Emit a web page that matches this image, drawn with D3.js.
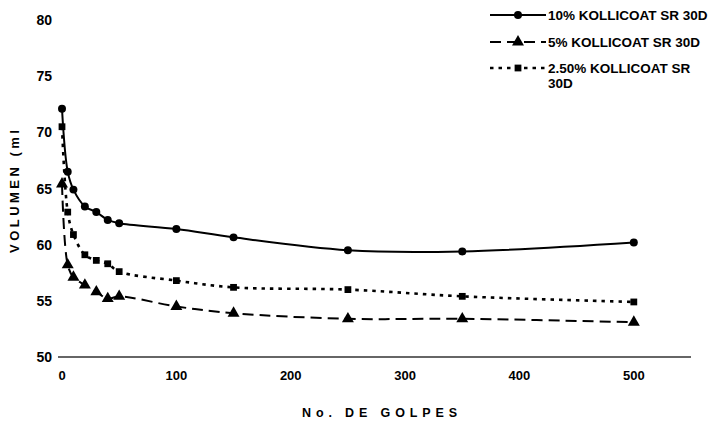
<!DOCTYPE html>
<html>
<head>
<meta charset="utf-8">
<script src="https://cdn.jsdelivr.net/npm/d3@7"></script>
<style>
  body { margin: 0; background: #fff; }
  text { font-family: Arial, "Liberation Sans", sans-serif; font-weight: bold; fill: #000; }
</style>
</head>
<body>
<svg id="chart" width="714" height="424"></svg>
<script>
// No. de golpes vs volumen (ml)
const golpes = [0, 5, 10, 20, 30, 40, 50, 100, 150, 250, 350, 500];
const kol10 = [72.1, 66.5, 64.9, 63.4, 62.9, 62.2, 61.9, 61.4, 60.65, 59.5, 59.4, 60.2];
const kol5 = [65.4, 58.2, 57.1, 56.4, 55.8, 55.2, 55.4, 54.5, 53.9, 53.4, 53.4, 53.1];
const kol25 = [70.5, 62.9, 60.9, 59.1, 58.6, 58.3, 57.6, 56.8, 56.2, 56.0, 55.4, 54.9];

const legendLabels = [["10% KOLLICOAT SR 30D"], ["5% KOLLICOAT SR 30D"], ["2.50% KOLLICOAT SR", "30D"]];
const xTicks = [0, 100, 200, 300, 400, 500];
const yTicks = [50, 55, 60, 65, 70, 75, 80];

const svg = d3.select("#chart");

const x = d3.scaleLinear().domain([0, 550]).range([62, 691]);
const y = d3.scaleLinear().domain([50, 80]).range([357, 20]);

const series = [
  { values: kol10, dash: null, width: 2, symbol: d3.symbolCircle, size: 50 },
  { values: kol5, dash: "11,6", width: 2, symbol: d3.symbolTriangle, size: 62 },
  { values: kol25, dash: "3.5,5", width: 2.6, symbol: d3.symbolSquare, size: 46 }
];

// x axis line at 50
svg.append("line")
  .attr("x1", x(0) - 4).attr("x2", x(550))
  .attr("y1", y(50)).attr("y2", y(50))
  .attr("stroke", "#333").attr("stroke-width", 1.4);

// y tick labels
svg.selectAll(".ylab")
  .data(yTicks)
  .enter().append("text")
  .attr("class", "ylab")
  .attr("x", 52)
  .attr("y", d => y(d))
  .attr("dy", "0.36em")
  .attr("text-anchor", "end")
  .style("font-size", "14px")
  .text(d => d);

// x tick labels
svg.selectAll(".xlab")
  .data(xTicks)
  .enter().append("text")
  .attr("class", "xlab")
  .attr("x", d => x(d))
  .attr("y", 380)
  .attr("text-anchor", "middle")
  .style("font-size", "13px")
  .text(d => d);

// axis titles
svg.append("text")
  .attr("x", 302).attr("y", 417)
  .attr("textLength", 155).attr("lengthAdjust", "spacing")
  .style("font-size", "12.5px")
  .text("No. DE GOLPES");

svg.append("text")
  .attr("transform", "translate(19,253) rotate(-90)")
  .attr("textLength", 123).attr("lengthAdjust", "spacing")
  .style("font-size", "13px")
  .text("VOLUMEN (ml");

// lines + markers
const line = d3.line()
  .x((d, i) => x(golpes[i]))
  .y(d => y(d))
  .curve(d3.curveCatmullRom.alpha(0.5));

series.forEach(s => {
  svg.append("path")
    .datum(s.values)
    .attr("d", line)
    .attr("fill", "none")
    .attr("stroke", "#000")
    .attr("stroke-width", s.width)
    .attr("stroke-dasharray", s.dash);

  svg.selectAll(null)
    .data(s.values)
    .enter().append("path")
    .attr("d", d3.symbol().type(s.symbol).size(s.size))
    .attr("transform", (d, i) => `translate(${x(golpes[i])},${y(d)})`)
    .attr("fill", "#000");
});

// legend
const legY = [15, 42, 68];
series.forEach((s, i) => {
  const g = svg.append("g");
  g.append("line")
    .attr("x1", 490).attr("x2", 546)
    .attr("y1", legY[i]).attr("y2", legY[i])
    .attr("stroke", "#000")
    .attr("stroke-width", s.width)
    .attr("stroke-dasharray", s.dash);
  g.append("path")
    .attr("d", d3.symbol().type(s.symbol).size(s.size))
    .attr("transform", `translate(518,${legY[i]})`)
    .attr("fill", "#000");
  const t = g.append("text")
    .attr("x", 548)
    .attr("y", legY[i])
    .style("font-size", "13.5px");
  legendLabels[i].forEach((txt, k) => {
    t.append("tspan").attr("x", 548).attr("dy", k === 0 ? "0.36em" : "1.15em").text(txt);
  });
});
</script>
</body>
</html>
